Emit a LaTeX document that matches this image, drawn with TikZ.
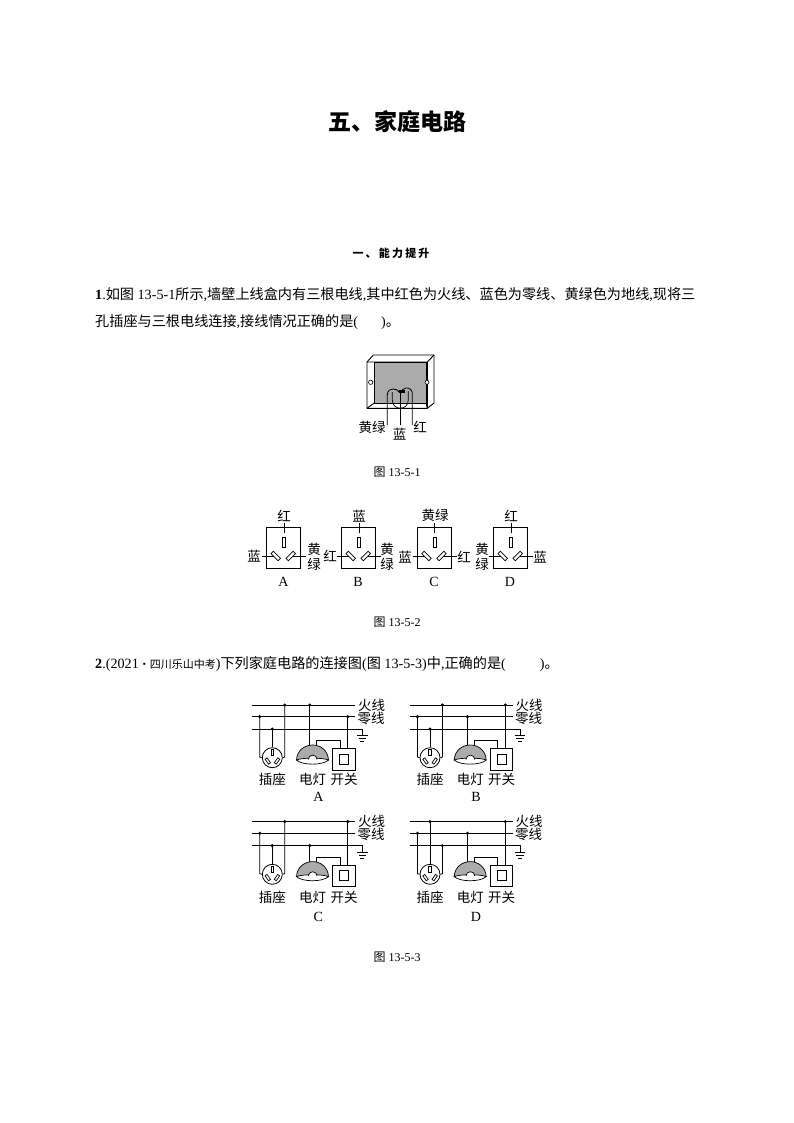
\documentclass[tikz,border=0pt]{standalone}
\usepackage{fontspec}
\setmainfont{Noto Sans CJK SC}
\newfontfamily\latf{Liberation Serif}
\newfontfamily\spaced[LetterSpace=20]{Noto Sans CJK SC}
\newcommand\latn[1]{{\latf #1}}
\tikzset{
 lbl/.style={inner sep=0pt,font=\fontsize{13.5}{13.5}\selectfont},
 figcap/.style={inner sep=0pt,font=\fontsize{12}{12}\selectfont},
 bodytext/.style={inner sep=0pt,anchor=west,font=\fontsize{14.15}{14.15}\selectfont},
 letter/.style={inner sep=0pt,font=\fontsize{14}{14}\selectfont\latf},
 slotbox/.style={draw,line width=.7pt,fill=white,inner sep=0pt,minimum width=10pt,minimum height=3.4pt},
 wire/.style={line width=.8pt},
 jdot/.style={circle,fill=black,inner sep=0pt,minimum size=3.4pt},
}
% three-pin socket of figure 13-5-2: #1 name, #2 left x of box
\newcommand\outlet[2]{%
 \begin{scope}[shift={(#2,0)}]
  \node[draw,line width=.8pt,inner sep=0pt,minimum width=34pt,minimum height=41pt] (#1box) at (17,548) {};
  \coordinate (#1ta) at (17.3,523);\coordinate (#1tb) at (17.3,533);
  \coordinate (#1la) at (-5,556);\coordinate (#1ra) at (39,556);
  \coordinate (#1lc) at (7,556);\coordinate (#1rc) at (26,556);
  \draw[wire] (#1ta)--(#1tb);
  \draw[wire] (#1la)--(#1lc);
  \draw[wire] (#1ra)--(#1rc);
  \node[slotbox,rotate=90] (#1t) at (17.3,542) {};
  \node[slotbox,rotate=-45] (#1l) at (9,556) {};
  \node[slotbox,rotate=45] (#1r) at (24,556) {};
 \end{scope}}
% circuit panel: #1 name, #2 dx, #3 dy, #4 socket left, #5 socket mid, #6 socket right, #7 lamp source, #8 switch source
\newcommand\panel[8]{%
 \begin{scope}[shift={(#2,#3)}]
  \coordinate (#1fa) at (252.3,705);\coordinate (#1fb) at (355,705);
  \coordinate (#1za) at (252.3,716.7);\coordinate (#1zb) at (355,716.7);
  \coordinate (#1ga) at (252.3,729);\coordinate (#1gb) at (362.3,729);\coordinate (#1gc) at (362.3,735.7);
  \draw[wire] (#1fa)--(#1fb);\draw[wire] (#1za)--(#1zb);\draw[wire] (#1ga)--(#1gb)--(#1gc);
  \draw[wire] (357,735.7)--(367.6,735.7) (358.6,738.7)--(366,738.7) (360.4,741.7)--(364.2,741.7);
  \node[lbl] (#1huo) at (371.5,705) {火线};
  \node[lbl] (#1ling) at (371,718) {零线};
  % socket
  \node[circle,draw,wire,fill=white,inner sep=0pt,minimum size=20pt] (#1s) at (272.3,757.7) {};
  \node[slotbox,rotate=90,minimum width=6pt,minimum height=2.4pt] at (272.3,752.5) {};
  \node[slotbox,rotate=-55,minimum width=6pt,minimum height=2.4pt] at (267.8,761) {};
  \node[slotbox,rotate=55,minimum width=6pt,minimum height=2.4pt] at (277,761) {};
  \node[jdot] (#1d1) at (259.7,#4) {};
  \node[jdot] (#1d2) at (272.3,#5) {};
  \node[jdot] (#1d3) at (284.7,#6) {};
  \node[jdot] (#1d4) at (309.7,#7) {};
  \node[jdot] (#1d5) at (347.7,#8) {};
  \draw[wire] (#1d1.center)--(259.7,757)--(#1s.west);
  \draw[wire] (#1d2.center)--(#1s.north);
  \draw[wire] (#1d3.center)--(284.7,757)--(#1s.east);
  % lamp
  \coordinate (#1lt) at (309.7,745.2);
  \draw[wire] (#1d4.center)--(#1lt);
  \draw[line width=.7pt,fill=black!33] (296.5,760) .. controls (297,750) and (305,745) .. (312.7,745) .. controls (320,745) and (328,750) .. (328.5,760) -- cycle;
  \draw[line width=.7pt,fill=white] (296.5,760) .. controls (302,757.5) and (323,757.5) .. (328.5,760) .. controls (323,765.5) and (302,765.5) .. cycle;
  \draw[line width=.7pt,fill=white] (308.3,759.5) arc[start angle=180,end angle=360,radius=4.4];
  % switch
  \node[draw,line width=.9pt,inner sep=0pt,minimum width=22.7pt,minimum height=21.7pt] (#1sw) at (343.7,759.2) {};
  \node[draw,line width=.9pt,inner sep=0pt,minimum width=9.4pt,minimum height=10pt] (#1swi) at (344,759) {};
  \coordinate (#1a) at (316.7,745.5);\coordinate (#1b) at (316.7,740.7);\coordinate (#1c) at (340,740.7);\coordinate (#1e) at (340,748.3);
  \draw[wire] (#1a)--(#1b)--(#1c)--(#1e);
  \draw[wire] (#1d5.center)--(347.7,748.3);
 \end{scope}}
\begin{document}
\begin{tikzpicture}[x=1pt,y=-1pt]
\useasboundingbox (0,0) rectangle (794,1123);
\fill[white] (0,0) rectangle (794,1123);
\node[inner sep=0pt,font=\fontsize{23}{23}\selectfont\bfseries] (title) at (397.5,122) {五、家庭电路};
\node[inner sep=0pt,font=\fontsize{11}{11}\selectfont\spaced\bfseries] (sec) at (391,253) {一、能力提升};
\node[bodytext] (q1a) at (95,295) {\latn{\textbf{1}.}如图\latn{ 13-5-1}所示\latn{,}墙壁上线盒内有三根电线\latn{,}其中红色为火线、蓝色为零线、黄绿色为地线\latn{,}现将三};
\node[bodytext] (q1b) at (95,322) {孔插座与三根电线连接\latn{,}接线情况正确的是\latn{(\hspace{23pt})}。};
% figure 13-5-1
\draw[line width=.9pt,fill=white] (367,362)--(373.3,355)--(434,355)--(434,403)--(427.3,408.3)--(367,408.3)--cycle;
\draw[line width=.7pt,fill=black!33] (374.3,362)--(426,362)--(426,403)--(374.3,403)--cycle;
\draw[line width=.9pt] (367,362)--(427.3,362)--(434,355) (427.3,362)--(427.3,408.3) (367,408.3)--(374.3,403) (426,403)--(427.3,408.3);
\node[circle,draw,line width=.6pt,fill=white,inner sep=0pt,minimum size=4.4pt] (ca) at (370.7,382.3) {};
\node[circle,draw,line width=.6pt,fill=white,inner sep=0pt,minimum size=4pt] (cb) at (427,382.3) {};
\draw[line width=.7pt] (392.3,392) -- (392.3,400) .. controls (392.3,411) and (408.3,411) .. (408.3,400) -- (408.3,391);
\draw[line width=.8pt] (387.3,425) -- (387.3,395) .. controls (387.3,390) and (391,389) .. (393,389) .. controls (396,389) and (398,390) .. (399,392);
\draw[line width=.8pt] (400.5,425) -- (400.5,392);
\draw[line width=.8pt] (412.3,425) -- (412.3,393) .. controls (412,389) and (408,387.5) .. (406,388) .. controls (403,388.5) and (402,390) .. (401,392);
\fill[black] (399,390) rectangle (405,392.5);
\node[lbl] (t1) at (372,427) {黄绿};
\node[lbl] (t2) at (399.5,434) {蓝};
\node[lbl] (t3) at (420,427) {红};
\node[figcap] (c1) at (397,472) {图\latn{ 13-5-1}};
% figure 13-5-2
\outlet{A}{266.7}
\outlet{B}{341.7}
\outlet{C}{417.5}
\outlet{D}{493.7}
\node[lbl] at (284,516) {红};\node[lbl] at (254,556) {蓝};\node[lbl] at (314,549) {黄};\node[lbl] at (314,564) {绿};\node[letter] at (283.5,582) {A};
\node[lbl] at (359,516) {蓝};\node[lbl] at (330,556) {红};\node[lbl] at (387,549) {黄};\node[lbl] at (387,564) {绿};\node[letter] at (358,582) {B};
\node[lbl] at (435,515) {黄绿};\node[lbl] at (405,557) {蓝};\node[lbl] at (464,557) {红};\node[letter] at (434,582) {C};
\node[lbl] at (511,516) {红};\node[lbl] at (482,549) {黄};\node[lbl] at (482,564) {绿};\node[lbl] at (540,557) {蓝};\node[letter] at (510,582) {D};
\node[figcap] (c2) at (397,622) {图\latn{ 13-5-2}};
\node[bodytext] (q2) at (95,664) {\latn{\textbf{2}.(2021}{\fontsize{11}{11}\selectfont·四川乐山中考}\latn{)}下列家庭电路的连接图\latn{(}图\latn{ 13-5-3)}中\latn{,}正确的是\latn{(\hspace{34pt})}。};
% figure 13-5-3
\def\hF{705}\def\hZ{716.7}\def\hG{729}
\panel{pa}{0}{0}{\hZ}{\hG}{\hF}{\hF}{\hZ}
\panel{pb}{157.7}{0}{\hZ}{\hG}{\hF}{\hZ}{\hF}
\panel{pc}{0}{116.6}{\hZ}{\hG}{\hF}{\hG}{\hF}
\panel{pd}{157.7}{116.6}{\hZ}{\hF}{\hG}{\hZ}{\hF}
\foreach \dx/\dy/\ldy/\lett in {0/0/0/A,157.7/0/0/B,0/118/120/C,157.7/118/120/D}{
 \node[lbl] at (272.3+\dx,779+\dy) {插座};
 \node[lbl] at (312.7+\dx,779+\dy) {电灯};
 \node[lbl] at (344+\dx,779+\dy) {开关};
 \node[letter] at (318.3+\dx,797+\ldy) {\lett};
}
\node[figcap] (c3) at (397,957) {图\latn{ 13-5-3}};
\end{tikzpicture}
\end{document}
